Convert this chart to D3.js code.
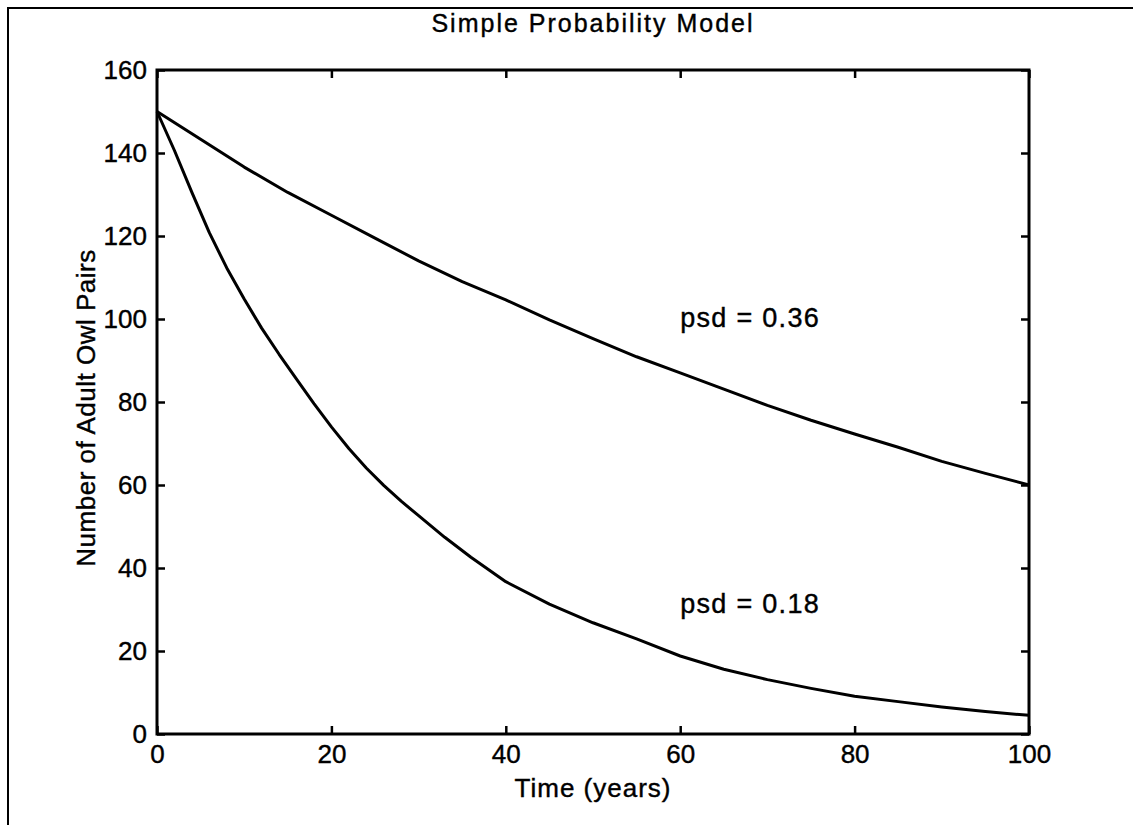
<!DOCTYPE html>
<html>

<head>
	<meta charset="utf-8">
	<title>Simple Probability Model</title>
	<script src="https://cdn.jsdelivr.net/npm/d3@7/dist/d3.min.js"></script>
	<style>
		body {
			margin: 0;
			background: #fff;
		}

		svg text {
			font-family: "Liberation Sans", Arial, Helvetica, sans-serif;
			fill: #000;
			stroke: #000;
			stroke-width: 0.4px;
		}

		.axis text {
			font-size: 26px;
		}

		.axis line {
			stroke: #000;
			stroke-width: 2.5px;
		}

		.axis path {
			display: none;
		}
	</style>
</head>

<body>
	<svg id="chart" width="1133" height="825"></svg>

	<script type="text/javascript">
		// psd = 0.36
		var upperYears = [0, 5, 10, 15, 20, 25, 30, 35, 40, 45, 50, 55, 60, 65, 70, 75, 80, 85, 90, 95, 100];
		var upperPairs = [150, 143.3, 136.6, 130.5, 125, 119.5, 114, 109, 104.6, 99.8, 95.3, 90.9, 87, 83.1,
			79.2, 75.6, 72.3, 69.1, 65.7, 62.8, 60];

		// psd = 0.18
		var lowerYears = [0, 2, 4, 6, 8, 10, 12, 14, 16, 18, 20, 22, 24, 26, 28, 30, 33, 36, 40, 45, 50, 55,
			60, 65, 70, 75, 80, 85, 90, 95, 100];
		var lowerPairs = [150, 140.6, 130.5, 120.8, 112.3, 104.8, 97.8, 91.5, 85.5, 79.6, 74, 68.8, 64.1, 59.9,
			56.1, 52.6, 47.4, 42.6, 36.7, 31.3, 26.8, 22.9, 18.8, 15.6, 13.1, 11, 9.1, 7.8, 6.5, 5.4, 4.5];

		var xTicks = [0, 20, 40, 60, 80, 100];
		var yTicks = [0, 20, 40, 60, 80, 100, 120, 140, 160];

		var labels = ['psd = 0.36', 'psd = 0.18'];
		var labelYears = [60, 60];
		var labelPairs = [100.5, 31.5];

		var svg = d3.select('#chart'),
			margin = { top: 70, left: 157, right: 104, bottom: 91 },
			width = +svg.attr('width') - margin.left - margin.right,
			height = +svg.attr('height') - margin.top - margin.bottom;

		// frame of the scanned figure (only top and left edges visible)
		svg.append('path')
			.attr('d', 'M8,825 L8,8 L1133,8')
			.attr('fill', 'none')
			.attr('stroke', '#000')
			.attr('stroke-width', 2);

		var g = svg.append('g')
			.attr('transform', 'translate(' + margin.left + ',' + margin.top + ')');

		var x = d3.scaleLinear().domain([0, 100]).range([0, width]);
		var y = d3.scaleLinear().domain([0, 160]).range([height, 0]);

		// axes, ticks pointing inward like matlab
		g.append('g').attr('class', 'axis')
			.attr('transform', 'translate(0,' + height + ')')
			.call(d3.axisBottom(x).tickValues(xTicks).tickSize(-8).tickPadding(11));

		g.append('g').attr('class', 'axis')
			.call(d3.axisTop(x).tickValues(xTicks).tickSize(-8).tickFormat(''));

		g.append('g').attr('class', 'axis')
			.call(d3.axisLeft(y).tickValues(yTicks).tickSize(-8).tickPadding(10));

		g.append('g').attr('class', 'axis')
			.attr('transform', 'translate(' + width + ',0)')
			.call(d3.axisRight(y).tickValues(yTicks).tickSize(-8).tickFormat(''));

		g.append('rect')
			.attr('width', width)
			.attr('height', height)
			.attr('fill', 'none')
			.attr('stroke', '#000')
			.attr('stroke-width', 3);

		var line = d3.line()
			.x(d => x(d[0]))
			.y(d => y(d[1]));

		[d3.zip(upperYears, upperPairs), d3.zip(lowerYears, lowerPairs)].forEach(series => {
			g.append('path')
				.datum(series)
				.attr('fill', 'none')
				.attr('stroke', '#000')
				.attr('stroke-width', 3)
				.attr('stroke-linejoin', 'round')
				.attr('d', line);
		});

		g.selectAll('.lbl')
			.data(labels)
			.enter()
			.append('text')
			.attr('class', 'lbl')
			.attr('x', (d, i) => x(labelYears[i]))
			.attr('y', (d, i) => y(labelPairs[i]))
			.attr('dy', '0.36em')
			.style('font-size', '27px')
			.style('letter-spacing', '1.3px')
			.text(d => d);

		// title and axis labels
		svg.append('text')
			.attr('x', margin.left + width / 2)
			.attr('y', 32)
			.attr('text-anchor', 'middle')
			.style('font-size', '25px')
			.style('letter-spacing', '2px')
			.text('Simple Probability Model');

		svg.append('text')
			.attr('x', margin.left + width / 2)
			.attr('y', 797)
			.attr('text-anchor', 'middle')
			.style('font-size', '26px')
			.style('letter-spacing', '1px')
			.text('Time (years)');

		svg.append('text')
			.attr('transform', 'translate(95,' + (margin.top + height / 2 + 6) + ') rotate(-90)')
			.attr('text-anchor', 'middle')
			.style('font-size', '26px')
			.style('letter-spacing', '0.5px')
			.text('Number of Adult Owl Pairs');
	</script>
</body>

</html>
